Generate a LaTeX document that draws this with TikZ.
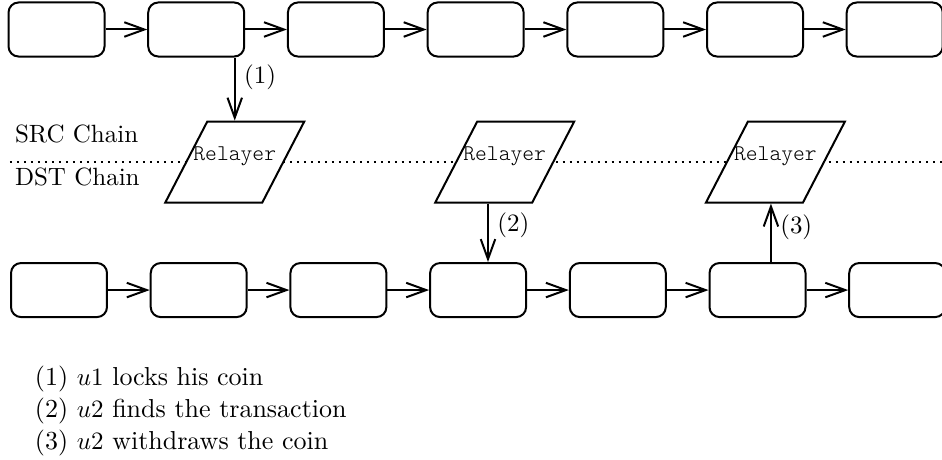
\documentclass[tikz,border=0pt]{standalone}
\usepackage{fontspec}
\newfontfamily\relayfont{Latin Modern Mono Light}
\usetikzlibrary{shapes.geometric,arrows.meta}
\begin{document}
\begin{tikzpicture}[thick,>={Straight Barb[length=8pt,width=5.8pt]},
  block/.style={draw,rounded corners,minimum width=1.35cm,minimum height=0.76cm},
  relayer/.style={draw,fill=white,shape=trapezium,trapezium left angle=62.6,trapezium right angle=117.4,
    inner xsep=0.387cm,inner ysep=0pt,text height=15.4pt,text depth=17pt,font=\relayfont\small}]
  \useasboundingbox (0,0) rectangle (13.25,-6.47);
  % Quellkette oben
  \foreach \i in {1,...,7}
    \node[block] (s\i) at ({0.795+1.965*(\i-1)},-0.415) {};
  \foreach \i [evaluate=\i as \j using int(\i+1)] in {1,...,6}
    \draw[->] (s\i) -- (s\j);
  % Zielkette unten
  \foreach \i in {1,...,7}
    \node[block] (d\i) at ({0.83+1.965*(\i-1)},-4.08) {};
  \foreach \i [evaluate=\i as \j using int(\i+1)] in {1,...,6}
    \draw[->] (d\i) -- (d\j);
  % Trennlinie
  \coordinate (lineL) at (0.14,-2.28);
  \coordinate (lineR) at (13.25,-2.28);
  \draw[dotted] (lineL) -- (lineR);
  \node[anchor=base west,inner sep=0] (src) at (0.197,-2.01) {SRC Chain};
  \node[anchor=base west,inner sep=0] (dst) at (0.197,-2.616) {DST Chain};
  % Relayer
  \node[relayer] (r1) at (3.302,-2.28) {\makebox[0pt]{Relayer}};
  \node[relayer] (r2) at (7.099,-2.28) {\makebox[0pt]{Relayer}};
  \node[relayer] (r3) at (10.907,-2.28) {\makebox[0pt]{Relayer}};
  % Schritte
  \coordinate (a2) at (6.864,0);
  \coordinate (a3) at (10.844,0);
  \draw[->] (r1.north |- s2.south) -- node[right,pos=0.32] {(1)} (r1.north);
  \draw[->] (a2 |- r2.south) -- node[right,pos=0.37] {(2)} (a2 |- d4.north);
  \draw[->] (a3 |- d6.north) -- node[right,pos=0.59] {(3)} (a3 |- r3.south);
  % Legende
  \node[anchor=north west,inner sep=0,align=left,font=\fontsize{10.4}{12.8}\selectfont] (legend) at (0.478,-5.134)
    {(1) $u1$ locks his coin\\(2) $u2$ finds the transaction\\(3) $u2$ withdraws the coin};
\end{tikzpicture}
\end{document}
